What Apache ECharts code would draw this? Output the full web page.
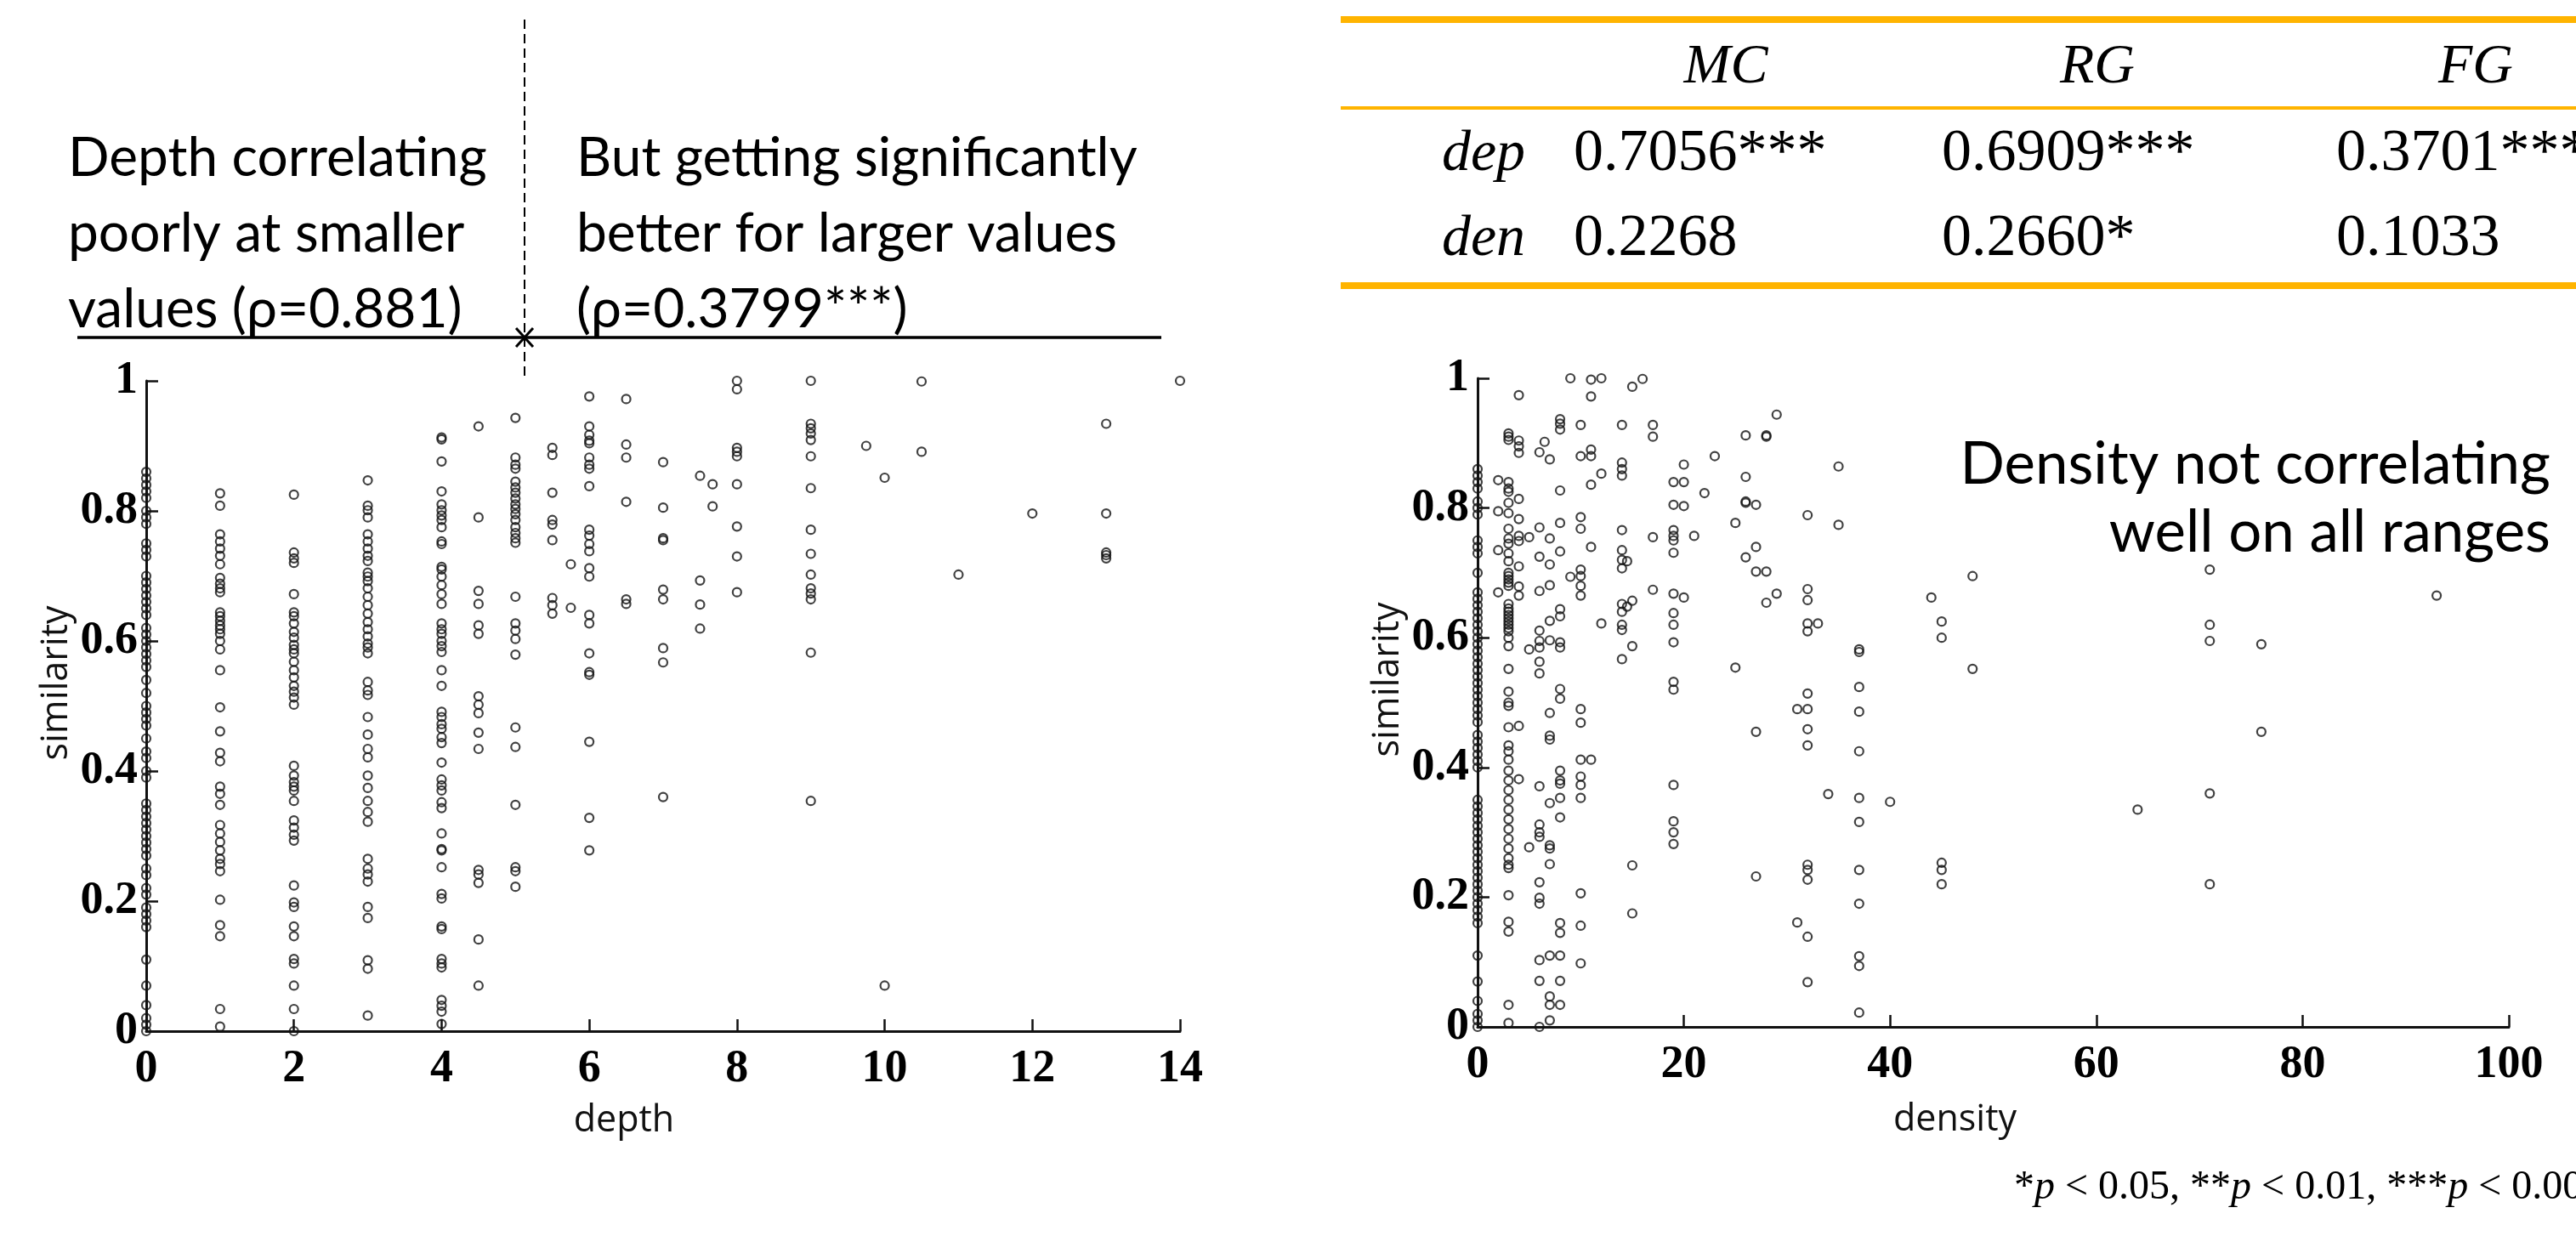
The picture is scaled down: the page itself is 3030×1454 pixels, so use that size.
<!DOCTYPE html>
<html>
<head>
<meta charset="utf-8">
<script src="https://cdn.jsdelivr.net/npm/echarts@6/dist/echarts.min.js"></script>
<style>
html, body { margin: 0; padding: 0; background: #fff; }
#main { width: 3030px; height: 1454px; }
</style>
</head>
<body>
<div id="main"></div>
<script>
// left plot: depth columns, similarity values
var depthCols = [0, 1, 2, 3, 4, 4.5, 5, 5.5, 5.75, 6, 6.5, 7, 7.5, 7.67, 8, 9, 9.75, 10, 10.5, 11, 12, 13, 14]
var depthSim = [
  [0.86,0.85,0.84,0.83,0.82,0.80,0.79,0.78,0.75,0.74,0.73,0.70,0.69,0.68,0.67,0.66,0.65,0.64,0.62,0.61,0.60,0.59,0.58,0.57,0.56,0.54,0.52,0.50,0.49,0.48,0.47,0.45,0.43,0.42,0.40,0.39,0.35,0.34,0.33,0.32,0.31,0.30,0.29,0.28,0.27,0.25,0.24,0.22,0.21,0.19,0.18,0.17,0.16,0.11,0.07,0.04,0.02,0.01,0.0],
  [0.827,0.808,0.764,0.753,0.742,0.731,0.718,0.697,0.688,0.681,0.675,0.644,0.638,0.631,0.624,0.618,0.611,0.600,0.587,0.555,0.498,0.461,0.428,0.415,0.376,0.365,0.348,0.317,0.304,0.291,0.278,0.265,0.257,0.246,0.202,0.163,0.146,0.034,0.007],
  [0.825,0.736,0.727,0.72,0.672,0.644,0.638,0.627,0.614,0.605,0.594,0.587,0.581,0.568,0.555,0.544,0.531,0.522,0.513,0.502,0.408,0.393,0.383,0.376,0.37,0.354,0.324,0.313,0.302,0.293,0.224,0.198,0.191,0.161,0.146,0.111,0.104,0.07,0.034,0.0],
  [0.847,0.808,0.801,0.79,0.764,0.753,0.742,0.731,0.723,0.705,0.699,0.692,0.681,0.668,0.655,0.642,0.629,0.618,0.607,0.596,0.59,0.581,0.537,0.524,0.517,0.483,0.456,0.434,0.421,0.393,0.374,0.354,0.337,0.322,0.265,0.25,0.241,0.23,0.191,0.174,0.109,0.096,0.024],
  [0.913,0.91,0.876,0.83,0.81,0.801,0.793,0.786,0.775,0.753,0.749,0.714,0.71,0.699,0.686,0.672,0.657,0.627,0.618,0.611,0.6,0.592,0.583,0.555,0.531,0.491,0.483,0.472,0.465,0.452,0.443,0.413,0.387,0.378,0.37,0.352,0.343,0.304,0.28,0.278,0.252,0.211,0.204,0.161,0.157,0.111,0.104,0.098,0.048,0.039,0.03,0.011],
  [0.93,0.79,0.677,0.657,0.624,0.611,0.515,0.502,0.489,0.459,0.434,0.248,0.241,0.228,0.141,0.07],
  [0.943,0.882,0.871,0.865,0.845,0.836,0.828,0.819,0.81,0.803,0.795,0.786,0.775,0.766,0.758,0.751,0.668,0.627,0.616,0.603,0.579,0.467,0.437,0.348,0.252,0.246,0.222],
  [0.897,0.886,0.828,0.786,0.779,0.755,0.666,0.655,0.642],
  [0.718,0.651],
  [0.976,0.93,0.917,0.908,0.904,0.882,0.871,0.865,0.838,0.771,0.762,0.749,0.738,0.712,0.699,0.64,0.627,0.581,0.552,0.548,0.445,0.328,0.278],
  [0.972,0.902,0.882,0.814,0.664,0.657],
  [0.875,0.805,0.758,0.755,0.679,0.664,0.589,0.567,0.36],
  [0.854,0.693,0.656,0.619],
  [0.841,0.807],
  [1.0,0.987,0.897,0.891,0.884,0.841,0.776,0.73,0.675],
  [1.0,0.934,0.927,0.919,0.909,0.884,0.835,0.771,0.734,0.702,0.681,0.673,0.664,0.582,0.354],
  [0.9],
  [0.851,0.07],
  [0.999,0.891],
  [0.702],
  [0.796],
  [0.934,0.796,0.736,0.732,0.727],
  [1.0]
]

// right plot: density columns, similarity values
var densityCols = [0, 2, 3, 4, 5, 6, 6.5, 7, 8, 9, 10, 11, 12, 14, 14.5, 15, 16, 17, 19, 20, 21, 22, 23, 25, 26, 27, 28, 29, 31, 32, 33, 34, 35, 37, 40, 44, 45, 48, 64, 71, 76, 93]
var densitySim = [
  [0.86,0.85,0.84,0.83,0.81,0.80,0.79,0.75,0.74,0.73,0.70,0.67,0.66,0.65,0.64,0.63,0.62,0.61,0.60,0.59,0.58,0.57,0.56,0.55,0.54,0.53,0.52,0.51,0.50,0.49,0.48,0.47,0.45,0.44,0.43,0.42,0.41,0.40,0.35,0.34,0.33,0.32,0.31,0.30,0.29,0.28,0.27,0.26,0.25,0.24,0.23,0.22,0.21,0.20,0.19,0.18,0.17,0.16,0.11,0.07,0.04,0.02,0.01,0],
  [0.843,0.795,0.735,0.67],
  [0.915,0.91,0.905,0.84,0.83,0.825,0.808,0.792,0.768,0.753,0.745,0.73,0.718,0.70,0.695,0.69,0.685,0.68,0.652,0.645,0.64,0.635,0.63,0.625,0.62,0.615,0.61,0.60,0.587,0.552,0.517,0.5,0.495,0.462,0.434,0.425,0.412,0.395,0.38,0.365,0.35,0.335,0.32,0.305,0.29,0.275,0.26,0.25,0.245,0.203,0.162,0.147,0.034,0.006],
  [0.974,0.904,0.895,0.885,0.814,0.783,0.757,0.749,0.71,0.679,0.665,0.464,0.382],
  [0.755,0.582,0.277],
  [0.886,0.77,0.725,0.672,0.611,0.595,0.585,0.563,0.545,0.371,0.312,0.3,0.293,0.223,0.199,0.19,0.103,0.071,0.0],
  [0.902],
  [0.875,0.753,0.713,0.681,0.626,0.596,0.484,0.449,0.443,0.345,0.28,0.275,0.251,0.11,0.047,0.034,0.01],
  [0.937,0.93,0.921,0.827,0.777,0.733,0.644,0.633,0.593,0.585,0.521,0.506,0.395,0.38,0.375,0.353,0.323,0.16,0.145,0.11,0.071,0.034],
  [1.0,0.694],
  [0.928,0.88,0.786,0.768,0.705,0.695,0.68,0.665,0.49,0.469,0.412,0.386,0.373,0.353,0.206,0.156,0.098],
  [0.998,0.972,0.89,0.88,0.836,0.74,0.412],
  [1.0,0.853,0.622],
  [0.928,0.87,0.86,0.85,0.766,0.735,0.72,0.707,0.652,0.64,0.62,0.612,0.567],
  [0.718,0.648],
  [0.987,0.657,0.587,0.249,0.175],
  [0.999],
  [0.928,0.91,0.755,0.674],
  [0.84,0.805,0.766,0.757,0.75,0.731,0.668,0.638,0.62,0.593,0.532,0.52,0.373,0.317,0.3,0.282],
  [0.867,0.84,0.803,0.662],
  [0.757],
  [0.823],
  [0.88],
  [0.777,0.554],
  [0.912,0.848,0.81,0.808,0.724],
  [0.805,0.74,0.702,0.455,0.232],
  [0.912,0.91,0.702,0.654],
  [0.944,0.668],
  [0.49,0.161],
  [0.789,0.675,0.658,0.622,0.61,0.514,0.49,0.459,0.434,0.25,0.242,0.227,0.139,0.069],
  [0.622],
  [0.359],
  [0.864,0.774],
  [0.582,0.578,0.524,0.486,0.425,0.353,0.316,0.242,0.19,0.109,0.094,0.022],
  [0.347],
  [0.662],
  [0.625,0.6,0.253,0.242,0.22],
  [0.695,0.552],
  [0.335],
  [0.705,0.62,0.595,0.36,0.22],
  [0.59,0.455],
  [0.665]
]

// axis ticks
var depthTicks = [0, 2, 4, 6, 8, 10, 12, 14]
var densityTicks = [0, 20, 40, 60, 80, 100]
var simTicks = [0, 0.2, 0.4, 0.6, 0.8, 1]

// correlation table
var tableCols = ['MC', 'RG', 'FG']
var tableRows = ['dep', 'den']
var tableVals = [
  ['0.7056***', '0.6909***', '0.3701***'],
  ['0.2268', '0.2660*', '0.1033']
]

// annotations
var noteLeft = ['Depth correlating', 'poorly at smaller', 'values (\u03c1=0.881)']
var noteMid = ['But getting significantly', 'better for larger values', '(\u03c1=0.3799***)']
var noteRight = ['Density not correlating', 'well on all ranges']

function toPoints(cols, sims){
  var pts = []
  cols.forEach(function(x, i){
    sims[i].forEach(function(y){ pts.push([x, y]) })
  })
  return pts
}

var ORANGE = '#ffb400'
var tickFont = 'Liberation Serif'
var noteFont = 'Lato'

function valueAxis(ticks, idx, extra){
  var ax = {
    type: 'value',
    gridIndex: idx,
    min: ticks[0],
    max: ticks[ticks.length - 1],
    interval: ticks[1] - ticks[0],
    splitLine: { show: false },
    axisLine: { show: true, onZero: false, lineStyle: { color: '#111', width: 3 } },
    axisTick: { show: true, inside: true, length: 14, lineStyle: { color: '#111', width: 2.5 } }
  }
  for (var k in extra) ax[k] = extra[k]
  return ax
}

var chart = echarts.init(document.getElementById('main'))

var graphics = []

// note texts
noteLeft.forEach(function(t, i){
  graphics.push({ type: 'text', left: 80, top: 154 + i * 89,
    style: { text: t, font: '64px ' + noteFont, fill: '#000' } })
})
noteMid.forEach(function(t, i){
  graphics.push({ type: 'text', left: 678, top: 154 + i * 89,
    style: { text: t, font: '64px ' + noteFont, fill: '#000' } })
})
noteRight.forEach(function(t, i){
  graphics.push({ type: 'text', right: 30, top: 512 + i * 80,
    style: { text: t, font: '69px ' + noteFont, fill: '#000', align: 'right' } })
})

// split marker: solid range line, dashed divider, cross
graphics.push({ type: 'line', shape: { x1: 91, y1: 397, x2: 1366, y2: 397 }, style: { stroke: '#000', lineWidth: 3.5 } })
graphics.push({ type: 'line', shape: { x1: 617, y1: 23, x2: 617, y2: 447 }, style: { stroke: '#000', lineWidth: 2, lineDash: [11, 6] } })
graphics.push({ type: 'line', shape: { x1: 607, y1: 386, x2: 627, y2: 408 }, style: { stroke: '#000', lineWidth: 3 } })
graphics.push({ type: 'line', shape: { x1: 627, y1: 386, x2: 607, y2: 408 }, style: { stroke: '#000', lineWidth: 3 } })

// table rules
graphics.push({ type: 'rect', shape: { x: 1577, y: 19, width: 1460, height: 8 }, style: { fill: ORANGE } })
graphics.push({ type: 'rect', shape: { x: 1577, y: 125, width: 1460, height: 4 }, style: { fill: ORANGE } })
graphics.push({ type: 'rect', shape: { x: 1577, y: 332, width: 1460, height: 8 }, style: { fill: ORANGE } })

var colCenter = [2030, 2467, 2912]
var colStart = [1851, 2284, 2748]
tableCols.forEach(function(c, i){
  graphics.push({ type: 'text', x: colCenter[i], y: 80,
    style: { text: c, font: 'italic 66px Liberation Serif', fill: '#000', align: 'center', verticalAlign: 'middle' } })
})
tableRows.forEach(function(r, j){
  var y = 182 + j * 100
  graphics.push({ type: 'text', x: 1745, y: y,
    style: { text: r, font: 'italic 68px Liberation Serif', fill: '#000', align: 'center', verticalAlign: 'middle' } })
  tableVals[j].forEach(function(v, i){
    graphics.push({ type: 'text', x: colStart[i], y: y,
      style: { text: v, font: '70px Liberation Serif', fill: '#000', align: 'left', verticalAlign: 'middle' } })
  })
})

// footnote
graphics.push({ type: 'text', x: 2369, y: 1397,
  style: {
    text: '*{i|p} < 0.05, **{i|p} < 0.01, ***{i|p} < 0.001',
    font: '48px Liberation Serif', fill: '#000', verticalAlign: 'middle',
    rich: { i: { fontFamily: 'Liberation Serif', fontStyle: 'italic', fontSize: 48 } }
  } })

var nameStyle = { fontFamily: 'Open Sans', fontSize: 43, color: '#111' }
var labelStyle = { color: '#000', fontFamily: tickFont, fontSize: 54, fontWeight: 'bold' }

var option = {
  backgroundColor: '#fff',
  animation: false,
  grid: [
    { left: 172, top: 448, width: 1216, height: 765 },
    { left: 1738, top: 445, width: 1213, height: 763 }
  ],
  xAxis: [
    valueAxis(depthTicks, 0, { name: 'depth', nameLocation: 'middle', nameGap: 84,
      nameTextStyle: Object.assign({ padding: [0, 92, 0, 0] }, nameStyle),
      axisLabel: Object.assign({ margin: 18 }, labelStyle) }),
    valueAxis(densityTicks, 1, { name: 'density', nameLocation: 'middle', nameGap: 88,
      nameTextStyle: Object.assign({ padding: [0, 90, 0, 0] }, nameStyle),
      axisLabel: Object.assign({ margin: 18 }, labelStyle) })
  ],
  yAxis: [
    valueAxis(simTicks, 0, { name: 'similarity', nameLocation: 'middle', nameGap: 84,
      nameTextStyle: Object.assign({ padding: [0, 0, 0, 54] }, nameStyle),
      axisLabel: Object.assign({ margin: 10 }, labelStyle) }),
    valueAxis(simTicks, 1, { name: 'similarity', nameLocation: 'middle', nameGap: 84,
      nameTextStyle: Object.assign({ padding: [0, 0, 0, 54] }, nameStyle),
      axisLabel: Object.assign({ margin: 10 }, labelStyle) })
  ],
  series: [
    {
      type: 'scatter', xAxisIndex: 0, yAxisIndex: 0,
      data: toPoints(depthCols, depthSim),
      symbol: 'circle', symbolSize: 10,
      itemStyle: { color: 'rgba(0,0,0,0)', borderColor: '#111', borderWidth: 2.2 }
    },
    {
      type: 'scatter', xAxisIndex: 1, yAxisIndex: 1,
      data: toPoints(densityCols, densitySim),
      symbol: 'circle', symbolSize: 10,
      itemStyle: { color: 'rgba(0,0,0,0)', borderColor: '#111', borderWidth: 2.2 }
    }
  ],
  graphic: graphics
}

chart.setOption(option)
</script>
</body>
</html>
